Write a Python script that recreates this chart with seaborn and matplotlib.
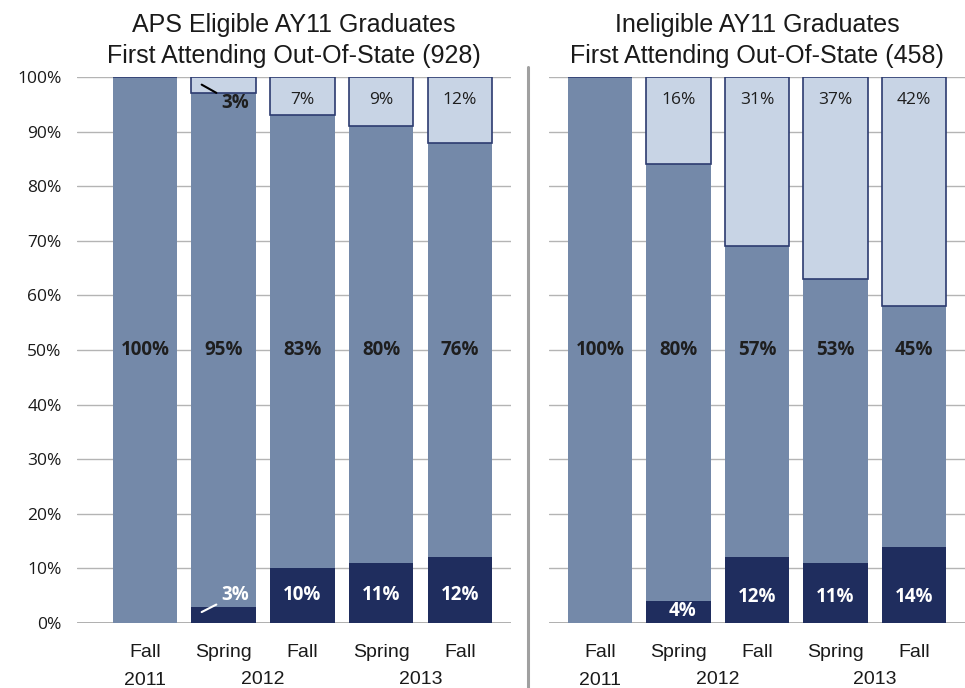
import pandas as pd
import numpy as np
import matplotlib.pyplot as plt
import seaborn as sns

# chart data (percent of graduates, bottom -> top of each bar)
periods = ['Fall 2011', 'Spring 2012', 'Fall 2012', 'Spring 2013', 'Fall 2013']
term_labels = ['Fall\n2011', 'Spring', 'Fall', 'Spring', 'Fall']
year_labels = ['2012', '2013']
y_ticks = [0, 10, 20, 30, 40, 50, 60, 70, 80, 90, 100]

eligible_dark = [0, 3, 10, 11, 12]
eligible_mid = [100, 95, 83, 80, 76]
eligible_light = [0, 3, 7, 9, 12]

ineligible_dark = [0, 4, 12, 11, 14]
ineligible_mid = [100, 80, 57, 53, 45]
ineligible_light = [0, 16, 31, 37, 42]

titles = ['APS Eligible AY11 Graduates\nFirst Attending Out-Of-State (928)',
          'Ineligible AY11 Graduates\nFirst Attending Out-Of-State (458)']

DARK = '#1f2d5e'
MID = '#7489a9'
LIGHT = '#c8d4e5'
EDGE = '#2c3b70'
GRID = '#b4b4b4'

sns.set_style('white')
plt.rcParams['font.family'] = ['Open Sans', 'DejaVu Sans']
narrow = ['Liberation Sans', 'DejaVu Sans']

fig = plt.figure(figsize=(9.65, 6.88), dpi=100)
ax_left = fig.add_axes([0.0798, 0.0945, 0.4497, 0.7936])
ax_right = fig.add_axes([0.5689, 0.0945, 0.4311, 0.7936])


def draw_panel(ax, dark, mid, light, title, xlim, show_y):
    df = pd.DataFrame({'period': periods, 'dark': dark, 'mid': mid, 'light': light})
    # middle segment fills the space between the bottom and the top segments
    df['mid_h'] = 100 - df['dark'] - df['light']
    df['light_bottom'] = 100 - df['light']

    sns.barplot(data=df, x='period', y='dark', order=periods, color=DARK,
                saturation=1, width=0.82, errorbar=None, linewidth=0, ax=ax)
    sns.barplot(data=df, x='period', y='mid_h', order=periods, color=MID,
                saturation=1, width=0.82, errorbar=None, linewidth=0,
                bottom=df['dark'].values, ax=ax)
    sns.barplot(data=df, x='period', y='light', order=periods, color=LIGHT,
                saturation=1, width=0.82, errorbar=None, edgecolor=EDGE,
                linewidth=1.2, bottom=df['light_bottom'].values, ax=ax)

    ax.set_xlim(*xlim)
    ax.set_ylim(0, 100)
    ax.set_yticks(y_ticks)
    ax.set_yticklabels([f'{t}%' for t in y_ticks] if show_y else [])
    ax.yaxis.grid(True, color=GRID, lw=1)
    ax.set_axisbelow(True)
    ax.axhline(0, color='#a8a8a8', lw=2, zorder=0.5)
    for s in ax.spines.values():
        s.set_visible(False)
    ax.tick_params(axis='both', length=0, labelsize=12.5, colors='#1a1a1a')
    ax.tick_params(axis='y', pad=11)
    ax.set_xticks(range(len(periods)))
    ax.set_xticklabels(term_labels, family=narrow, fontsize=14, linespacing=1.85)
    ax.tick_params(axis='x', pad=15)
    ax.set_xlabel('')
    ax.set_ylabel('')
    for i, yl in enumerate(year_labels):
        ax.annotate(yl, xy=(1.5 + 2 * i, 0), xycoords=('data', 'axes fraction'),
                    xytext=(0, -40.5), textcoords='offset points', ha='center',
                    va='center', family=narrow, fontsize=14, color='#1a1a1a')
    ax.set_title(title, family=narrow, fontsize=18, linespacing=1.35, pad=10,
                 color='#1a1a1a')

    for i in range(len(periods)):
        ax.text(i, 50, f'{mid[i]}%', ha='center', va='center', fontsize=13.5,
                fontweight='bold', color='#1e1e1e')


draw_panel(ax_left, eligible_dark, eligible_mid, eligible_light, titles[0],
           (-0.863, 4.648), True)
draw_panel(ax_right, ineligible_dark, ineligible_mid, ineligible_light, titles[1],
           (-0.65, 4.65), False)

# segment labels, left panel
for i in [2, 3, 4]:
    ax_left.text(i, 5.1, f'{eligible_dark[i]}%', ha='center', va='center',
                 fontsize=13.5, fontweight='bold', color='white')
    ax_left.text(i, 95.8, f'{eligible_light[i]}%', ha='center', va='center',
                 fontsize=12.5, color='#1e1e1e')
ax_left.annotate(f'{eligible_light[1]}%', xy=(0.72, 98.6), xytext=(1.14, 95.2),
                 ha='center', va='center', fontsize=13.5, fontweight='bold',
                 color='#1e1e1e',
                 arrowprops=dict(arrowstyle='-', color='black', lw=1.5,
                                 shrinkA=1, shrinkB=0))
ax_left.annotate(f'{eligible_dark[1]}%', xy=(0.72, 2.0), xytext=(1.14, 5.1),
                 ha='center', va='center', fontsize=13.5, fontweight='bold',
                 color='white',
                 arrowprops=dict(arrowstyle='-', color='white', lw=1.5,
                                 shrinkA=1, shrinkB=0))

# segment labels, right panel
ax_right.text(1.05, 2.2, f'{ineligible_dark[1]}%', ha='center', va='center',
              fontsize=13.5, fontweight='bold', color='white')
for i in [2, 3, 4]:
    ax_right.text(i, 4.7, f'{ineligible_dark[i]}%', ha='center', va='center',
                  fontsize=13.5, fontweight='bold', color='white')
for i in [1, 2, 3, 4]:
    ax_right.text(i, 95.8, f'{ineligible_light[i]}%', ha='center', va='center',
                  fontsize=12.5, color='#1e1e1e')

# divider between the two panels
fig.add_artist(plt.Line2D([0.547, 0.547], [0, 0.903], color='#a0a0a0', lw=2.2,
                          transform=fig.transFigure))

plt.savefig('out.png', dpi=100)
